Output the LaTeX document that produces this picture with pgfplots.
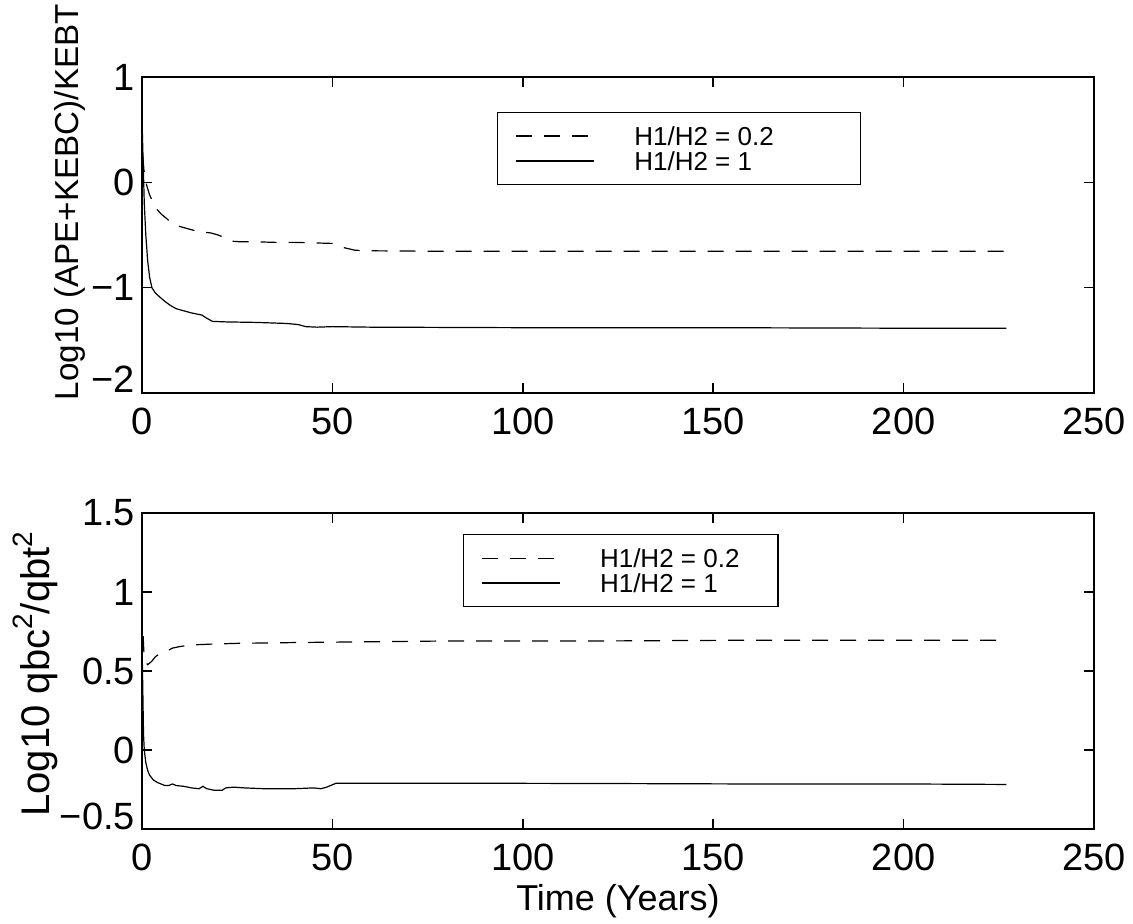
\documentclass[border=0pt]{standalone}
\usepackage{fontspec}
\setmainfont{Liberation Sans}
\usepackage{pgfplots}
\pgfplotsset{compat=1.18}

\pgfplotsset{
  myaxis/.style={
    scale only axis,
    width=476pt, height=158pt,
    xmin=0, xmax=250,
    xtick={0,50,100,150,200,250},
    axis line style={line width=0.8pt},
    major tick style={line width=0.8pt, black},
    major tick length=5pt,
    tick align=inside,
    /pgf/number format/assume math mode=true,
    tick label style={font=\fontsize{19}{22}\selectfont},
    xticklabel style={yshift=-4pt},
    label style={font=\fontsize{18}{21}\selectfont},
    legend cell align=left,
    legend image code/.code={\draw[##1,line width=0.6pt] (0pt,0pt) -- (39pt,0pt); \path[draw=none] (0pt,0pt) -- (59pt,0pt);},
    legend style={draw=black, line width=0.6pt, fill=white, anchor=north west,
      inner xsep=9pt, inner ysep=7pt, row sep=3pt,
      nodes={inner sep=0pt, text depth=0pt},
      font=\fontsize{13}{15}\selectfont},
  },
  dashedline/.style={black, line width=0.6pt, dash pattern=on 8pt off 6pt},
  solidline/.style={black, line width=0.6pt},
}

\begin{document}
\begin{tikzpicture}
\begin{axis}[myaxis,
  name=top,
  ymin=-2, ymax=1,
  ytick={-2,-1,0,1},
  yticklabels={\smash{−2},−1,0,1},
  ylabel={Log10 (APE+KEBC)/KEBT},
  ylabel style={anchor=center, at={(axis description cs:-0.0756,0.604)}, font=\fontsize{16.6}{19}\selectfont},
  legend style={at={(axis description cs:0.373,0.889)}},
]
\addplot[dashedline] coordinates {
(0.2,0.25) (0.5,0.12) (1,0.0) (2,-0.12) (3,-0.2) (4,-0.26) (5,-0.3) (7,-0.36)
(9,-0.41) (12,-0.44) (15,-0.47) (18,-0.48) (20,-0.5) (22,-0.53) (24,-0.56)
(26,-0.565) (30,-0.565) (35,-0.57) (40,-0.57) (45,-0.575) (50,-0.58) (53,-0.62)
(56,-0.645) (60,-0.65) (80,-0.655) (100,-0.655) (150,-0.655) (200,-0.655) (227,-0.655)
};
\addlegendentry{\makebox[104pt][l]{H1/H2 = 0.2}}
\addplot[solidline] coordinates {
(0,0.6) (0.3,0.2) (0.6,-0.2) (1,-0.5) (1.5,-0.75) (2,-0.9) (2.6,-1.0) (3.5,-1.05)
(4.7,-1.09) (6,-1.13) (7.5,-1.17) (9,-1.2) (11,-1.22) (13,-1.24) (15.7,-1.26)
(17,-1.29) (18.5,-1.32) (22,-1.325) (30,-1.33) (38,-1.34) (41,-1.35) (43,-1.37)
(46,-1.375) (50,-1.37) (60,-1.375) (100,-1.38) (150,-1.38) (200,-1.385) (227,-1.385)
};
\addlegendentry{\makebox[104pt][l]{H1/H2 = 1}}
\end{axis}

\begin{axis}[myaxis,
  at={(0pt,-218pt)},
  ymin=-0.5, ymax=1.5,
  ytick={-0.5,0,0.5,1,1.5},
  yticklabels={\smash{−0.5},0,0.5,1,1.5},
  xlabel={Time (Years)},
  ylabel={Log10 qbc\raisebox{0.42em}{\fontsize{14}{15}\selectfont 2}/qbt\raisebox{0.42em}{\fontsize{14}{15}\selectfont 2}},
  ylabel style={anchor=center, at={(axis description cs:-0.112,0.49)}, font=\fontsize{20}{23}\selectfont},
  legend style={at={(axis description cs:0.337,0.933)}},
]
\addplot[dashedline] coordinates {
(0.3,0.72) (0.5,0.62) (0.8,0.56) (1.5,0.54) (2.5,0.56) (3.5,0.59) (5,0.615)
(6.5,0.625) (8,0.645) (10,0.655) (13,0.665) (18,0.67) (25,0.675) (40,0.68)
(60,0.685) (80,0.69) (120,0.69) (160,0.695) (200,0.695) (227,0.695)
};
\addlegendentry{\makebox[80pt][l]{H1/H2 = 0.2}}
\addplot[solidline] coordinates {
(0,0.7) (0.2,0.4) (0.4,0.1) (0.6,0.0) (1,-0.08) (1.5,-0.13) (2,-0.16) (3,-0.19)
(4,-0.205) (5,-0.215) (6,-0.225) (7,-0.225) (8,-0.215) (9,-0.225) (11,-0.23)
(13,-0.24) (15,-0.245) (16,-0.23) (17,-0.245) (19,-0.255) (21,-0.255) (22,-0.24)
(24,-0.235) (27,-0.24) (32,-0.245) (40,-0.245) (45,-0.24) (47,-0.245) (48.5,-0.235)
(50,-0.22) (51,-0.21) (55,-0.21) (80,-0.21) (120,-0.212) (160,-0.215) (200,-0.215) (227,-0.218)
};
\addlegendentry{\makebox[80pt][l]{H1/H2 = 1}}
\end{axis}
\pgfresetboundingbox
\path[use as bounding box] (-71pt,-265.5pt) rectangle (495.5pt,196.5pt);
\end{tikzpicture}
\end{document}
